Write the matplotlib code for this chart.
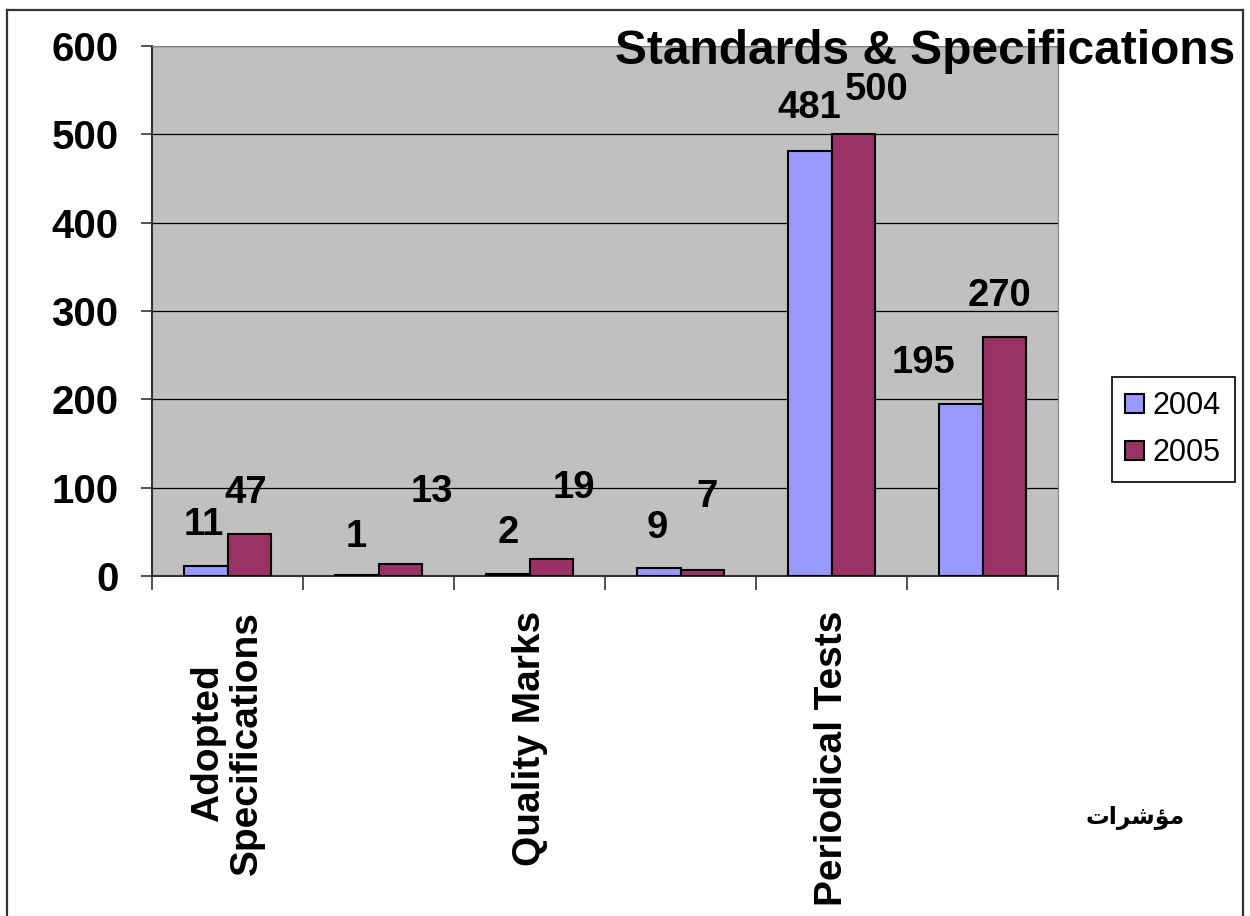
import numpy as np
import matplotlib.pyplot as plt
from matplotlib.lines import Line2D

plt.rcParams['font.family'] = ['Liberation Sans', 'DejaVu Sans']

# Chart data
categories = ['Adopted\nSpecifications', '', 'Quality Marks', '', 'Periodical Tests', '']
values_2004 = [11, 1, 2, 9, 481, 195]
values_2005 = [47, 13, 19, 7, 500, 270]
years = ['2004', '2005']

# label nudges (pixels) so the numbers sit where the original has them
nudge_2004 = [(-2, 41), (-1, 38), (0, 41), (-2, 40), (-1, 43), (-37, 41)]
nudge_2005 = [(-3, 41), (32, 72), (23, 71), (5, 73), (24, 44), (-5, 41)]

col_2004 = '#9999FF'
col_2005 = '#993366'

fig = plt.figure(figsize=(12.5, 9.16), dpi=100)
ax = fig.add_axes([0.1216, 0.3712, 0.7248, 0.5786])
ax.set_facecolor('#C0C0C0')

x = np.arange(len(categories))
w = 0.285
b1 = ax.bar(x - w / 2, values_2004, w, color=col_2004, edgecolor='black', linewidth=1.5, label=years[0], zorder=3)
b2 = ax.bar(x + w / 2, values_2005, w, color=col_2005, edgecolor='black', linewidth=1.5, label=years[1], zorder=3)

for bars, vals, nudges in [(b1, values_2004, nudge_2004), (b2, values_2005, nudge_2005)]:
    for bar, v, (dx, dy) in zip(bars, vals, nudges):
        ax.annotate(str(v), (bar.get_x() + bar.get_width() / 2, v),
                    xytext=(dx, dy), textcoords='offset pixels',
                    ha='center', va='center', fontsize=27.5, fontweight='bold', zorder=5)

ax.set_xlim(-0.5, len(categories) - 0.5)
ax.set_ylim(0, 600)
ax.set_yticks(np.arange(0, 601, 100))
ax.yaxis.grid(True, color='black', linewidth=0.9, zorder=1)
ax.set_axisbelow(True)

ax.set_xticks(x)
ax.set_xticklabels(categories, rotation=90, fontsize=28, fontweight='bold', va='top', ha='center',
                   linespacing=1.12)
ax.tick_params(axis='x', length=0, pad=25)
ax.set_xticks(np.arange(-0.5, len(categories), 1), minor=True)
ax.tick_params(axis='x', which='minor', length=10, width=1.2, color='#333333', direction='out')
ax.tick_params(axis='y', length=8, width=1.2, color='#333333', direction='out', pad=16,
               labelsize=29)
for t in ax.get_yticklabels():
    t.set_fontweight('bold')

ax.spines['left'].set_color('#333333')
ax.spines['left'].set_linewidth(1.5)
ax.spines['bottom'].set_color('#333333')
ax.spines['bottom'].set_linewidth(1.5)
ax.spines['top'].set_color('#808080')
ax.spines['right'].set_color('#808080')

fig.text(0.988, 0.944, 'Standards & Specifications', ha='right', va='center',
         fontsize=34.5, fontweight='bold')

leg = fig.legend(handles=[b1, b2], labels=years, loc='center', bbox_to_anchor=(0.9385, 0.531),
                 fontsize=22, handlelength=0.6, handleheight=0.6, handletextpad=0.3,
                 labelspacing=0.55, borderpad=0.45, borderaxespad=0, fancybox=False,
                 framealpha=1, edgecolor='black')
leg.get_frame().set_linewidth(1.2)

# Arabic word in presentation forms, visual order
fig.text(0.908, 0.107, '\uFE95\uFE8D\uFEAE\uFEB7\uFE86\uFEE3', ha='center', va='center',
         fontsize=17, fontweight='bold', family=['DejaVu Sans'])

# outer frame
for xs, ys in [([0.0056, 0.0056], [-0.01, 0.989]), ([0.0056, 0.9944], [0.989, 0.989]),
               ([0.9944, 0.9944], [0.989, -0.01])]:
    fig.add_artist(Line2D(xs, ys, color='#333333', linewidth=1.6, transform=fig.transFigure))

fig.savefig('out.png', dpi=100)
